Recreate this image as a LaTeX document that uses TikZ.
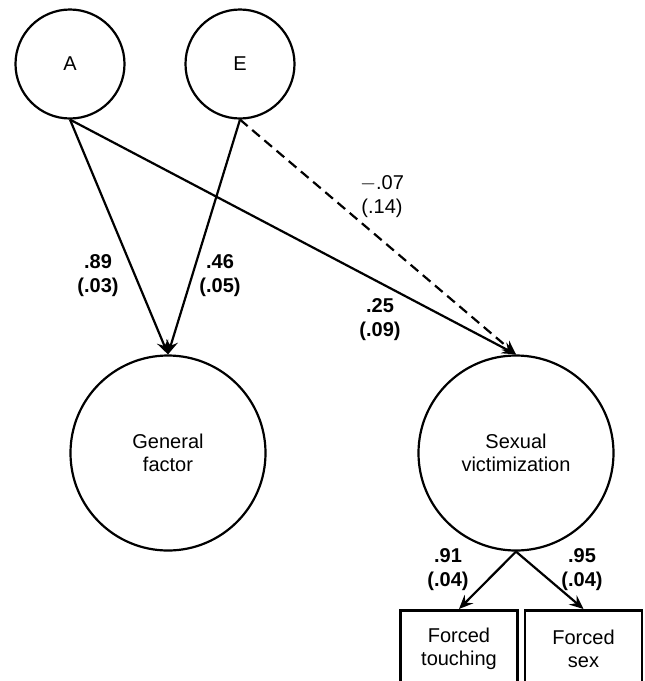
\documentclass[tikz,border=0pt]{standalone}
\usepackage{fontspec}
\setmainfont{Liberation Sans}
\usetikzlibrary{arrows.meta}

\begin{document}
\begin{tikzpicture}[x=1pt,y=-1pt,
	latent/.style={circle,draw=black,line width=2.2pt,inner sep=0pt,align=center,
		font=\fontsize{20}{23}\selectfont},
	indicator/.style={rectangle,draw=black,line width=2.8pt,anchor=north,align=center,
		minimum width=117pt,minimum height=76pt,font=\fontsize{20}{23}\selectfont},
	path/.style={line width=2.2pt,-{Stealth[length=14pt,width=12pt,inset=5pt]}},
	coef/.style={align=center,font=\bfseries\fontsize{20}{24}\selectfont},
	coefns/.style={align=center,font=\fontsize{20}{24}\selectfont}]
			%\draw[help lines] (0,0) grid (645,681);
			\useasboundingbox (0,0) rectangle (645,681);
			\clip (0,0) rectangle (645,681);
			
			\node[latent,minimum size=109pt] (A) at (70,64) {A};
			\node[latent,minimum size=109pt] (E) at (240,64) {E};
			
			\node[latent,minimum size=195pt] (gen) at (168,453) {General\\factor};
			\node[latent,minimum size=195pt] (sv) at (516,453) {Sexual\\victimization};
			
			\node[indicator] (touch) at (459,609) {Forced\\touching};
			\node[indicator] (sex) at (583.5,609) {Forced\\sex};
			
			\draw[path] (A.south) -- (gen.north);
			\draw[path] (E.south) -- (gen.north);
			\draw[path] (A.south) -- (sv.north);
			\draw[path,dash pattern=on 10pt off 6pt] (E.south) -- (sv.north);
			
			\draw[path] (sv.south) -- (touch.north);
			\draw[path] (sv.south) -- (sex.north);
			
			\node[coef] (l-a-gen) at (98,276) {.89\\(.03)};
			\node[coef] (l-e-gen) at (220,276) {.46\\(.05)};
			\node[coefns] (l-e-sv) at (382,197) {$-$.07\\(.14)};
			\node[coef] (l-a-sv) at (380,320) {.25\\(.09)};
			\node[coef] (l-touch) at (448,570) {.91\\(.04)};
			\node[coef] (l-sex) at (582,570) {.95\\(.04)};
			
\end{tikzpicture}
\end{document}
